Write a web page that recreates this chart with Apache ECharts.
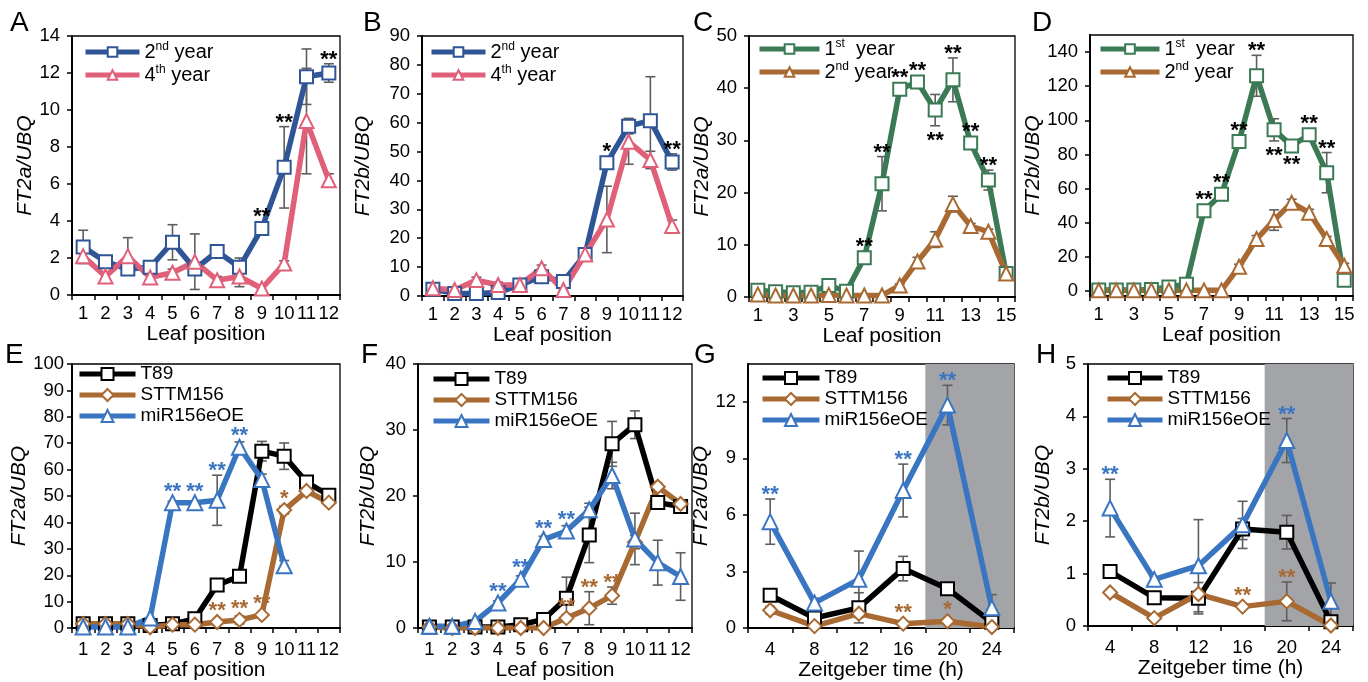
<!DOCTYPE html>
<html>
<head>
<meta charset="utf-8">
<title>FT2a / FT2b expression</title>
<script src="https://cdn.jsdelivr.net/npm/echarts@6.0.0/dist/echarts.min.js"></script>
<style>
  html, body { margin: 0; padding: 0; background: #fff; }
  #main { width: 1368px; height: 682px; }
</style>
</head>
<body>
<div id="main"></div>
<script>
// ---- categories / ticks ----
const leaf12 = ['1', '2', '3', '4', '5', '6', '7', '8', '9', '10', '11', '12'];
const leaf15 = ['1', '2', '3', '4', '5', '6', '7', '8', '9', '10', '11', '12', '13', '14', '15'];
const ztHours = [4, 8, 12, 16, 20, 24];
const ztTicks = [2, 6, 10, 14, 18, 22, 26];
const darkStart = 18; // shaded (dark) period in G and H

const ticksA = [0, 2, 4, 6, 8, 10, 12, 14];
const ticksB = [0, 10, 20, 30, 40, 50, 60, 70, 80, 90];
const ticksC = [0, 10, 20, 30, 40, 50];
const ticksD = [0, 20, 40, 60, 80, 100, 120, 140];
const ticksE = [0, 10, 20, 30, 40, 50, 60, 70, 80, 90, 100];
const ticksF = [0, 10, 20, 30, 40];
const ticksG = [0, 3, 6, 9, 12];
const ticksH = [0, 1, 2, 3, 4, 5];

// ---- values, error = +/- bar half length ----
// '' = no mark, '**' = above the point, '_**' = below the point
const a2nd = [2.6, 1.8, 1.4, 1.5, 2.85, 1.4, 2.35, 1.5, 3.6, 6.9, 11.8, 12.0];
const a2ndErr = [0.9, 0, 0, 0.3, 0.95, 0, 0, 0.5, 0, 2.2, 1.5, 0.5];
const a4th = [2.1, 1.0, 2.1, 0.95, 1.2, 1.8, 0.8, 1.0, 0.35, 1.7, 9.4, 6.2];
const a4thErr = [0.3, 0.2, 1.0, 0.2, 0.2, 1.5, 0.2, 0.55, 0.15, 0.15, 2.85, 0.35];
const sigA = ['', '', '', '', '', '', '', '', '**', '**', '', '**'];

const b2nd = [2.3, 0.9, 0.9, 1.2, 3.8, 6.7, 5.0, 14.4, 46.1, 58.8, 60.7, 46.4];
const b2ndErr = [0.8, 0.5, 0.5, 0.6, 1.0, 1.0, 1.0, 1.5, 1.5, 2.7, 15.2, 2.8];
const b4th = [2.7, 2.1, 5.5, 3.8, 3.8, 9.6, 2.1, 14.4, 26.5, 53.4, 47.1, 24.2];
const b4thErr = [0.5, 0.5, 1.0, 1.0, 0.8, 1.1, 0.5, 1.0, 11.5, 7.8, 3.0, 2.1];
const sigB = ['', '', '', '', '', '', '', '', '*', '', '', '**'];

const c1st = [1.3, 1.0, 0.8, 0.9, 2.2, 1.1, 7.5, 21.7, 39.8, 41.2, 35.8, 41.6, 29.5, 22.4, 4.5];
const c1stErr = [0, 0, 0, 0, 0, 0, 0.5, 5.2, 0.5, 0.5, 3.0, 4.2, 0.8, 1.9, 0.5];
const c2nd = [0.5, 0.3, 0.3, 0.3, 0.4, 0.3, 0.3, 0.3, 2.2, 6.8, 11.0, 17.8, 13.6, 12.5, 4.5];
const c2ndErr = [0, 0, 0, 0, 0, 0, 0, 0, 0.3, 0.8, 1.5, 1.5, 0.5, 0.5, 0.3];
const sigC = ['', '', '', '', '', '', '**', '**', '**', '**', '_**', '**', '**', '**', ''];

const d1st = [0.5, 0.5, 0.5, 0.8, 2.3, 3.9, 47.0, 56.6, 87.6, 126.1, 94.4, 85.0, 91.5, 69.3, 6.3];
const d1stErr = [0, 0, 0, 0, 0, 0, 2, 2, 2, 12, 6.5, 2, 2, 11.8, 1];
const d2nd = [0.3, 0.3, 0.3, 0.3, 0.3, 0.3, 0.3, 0.3, 14.1, 30.4, 41.5, 51.7, 45.8, 30.4, 14.7];
const d2ndErr = [0, 0, 0, 0, 0, 0, 0, 0, 1.5, 2, 6, 2, 2, 1.5, 1.5];
const sigD = ['', '', '', '', '', '', '**', '**', '**', '**', '_**', '_**', '**', '**', ''];

const eT89 = [1.6, 1.6, 1.6, 1.0, 1.6, 3.5, 16.3, 19.6, 67.0, 65.1, 55.3, 50.3];
const eT89Err = [0, 0, 0, 0, 0, 0.5, 1, 1, 3.7, 5.0, 1.5, 1];
const eSttm = [1.6, 1.6, 1.6, 0.3, 1.3, 1.3, 2.3, 3.1, 5.0, 44.7, 51.9, 47.5];
const eSttmErr = [0, 0, 0, 0, 0, 0, 0.5, 1.5, 0.8, 1.5, 1.5, 1];
const eMir = [0.4, 0.4, 0.4, 3.8, 47.5, 47.5, 48.4, 68.5, 56.3, 23.6];
const eMirErr = [0, 0, 0, 0, 0.5, 0.5, 9.5, 2, 2, 2];
const sigEsttm = ['', '', '', '', '', '', '**', '**', '**', '*', '', ''];
const sigEmir = ['', '', '', '', '**', '**', '**', '**', '', ''];

const fT89 = [0.15, 0.15, 0.15, 0.15, 0.5, 1.3, 4.5, 14.1, 27.9, 30.8, 19.0, 18.4];
const fT89Err = [0, 0, 0, 0, 0, 0.3, 3.2, 4.2, 3.4, 2.1, 1, 0.5];
const fSttm = [0.15, 0, 0, 0, 0, 0, 1.5, 3.0, 4.9, 13.0, 21.4, 18.8];
const fSttmErr = [0, 0, 0, 0, 0, 0, 0.5, 2.5, 1.3, 1, 0.5, 0.5];
const fMir = [0.25, 0.25, 1.0, 3.8, 7.4, 13.4, 14.7, 17.9, 23.1, 13.5, 9.9, 7.8];
const fMirErr = [0, 0, 0, 0.3, 0.5, 0.5, 0.8, 1, 2, 3.9, 3.4, 3.6];
const sigFsttm = ['', '', '', '', '', '', '**', '**', '**', '', '', ''];
const sigFmir = ['', '', '', '**', '**', '**', '**', '', '', '', '', ''];

const gT89 = [1.74, 0.53, 1.07, 3.15, 2.08, 0.3];
const gT89Err = [0.2, 0.1, 0.8, 0.65, 0.15, 0.1];
const gSttm = [0.94, 0.1, 0.76, 0.23, 0.36, 0.05];
const gSttmErr = [0.2, 0.05, 0.2, 0.05, 0.1, 0.02];
const gMir = [5.64, 1.33, 2.58, 7.29, 11.82, 1.07];
const gMirErr = [1.2, 0.25, 1.5, 1.4, 1.05, 0.7];
const sigGsttm = ['', '', '', '**', '*', ''];
const sigGmir = ['**', '', '', '**', '**', ''];

const hT89 = [1.04, 0.54, 0.53, 1.85, 1.79, 0.08];
const hT89Err = [0.05, 0.05, 0.3, 0.2, 0.32, 0.05];
const hSttm = [0.64, 0.15, 0.61, 0.37, 0.47, 0.01];
const hSttmErr = [0.05, 0.02, 0.05, 0.05, 0.37, 0.01];
const hMir = [2.25, 0.89, 1.15, 1.93, 3.54, 0.47];
const hMirErr = [0.55, 0.05, 0.88, 0.45, 0.42, 0.35];
const sigHsttm = ['', '', '', '**', '**', ''];
const sigHmir = ['**', '', '', '', '**', ''];

// ---- styling ----
const font = '"Liberation Sans", Arial, sans-serif';
const errColor = '#5e5e5e';
const shadeColor = '#a3a4a8';
const blueA = '#2f5597', pink = '#e0607a', green = '#3b7a55', brown = '#a86a32', blueE = '#3a75c2';

const chart = echarts.init(document.getElementById('main'));
const grid = [], xAxis = [], yAxis = [], legend = [], series = [], graphic = [];

function supText(s) {
  return s.replace(/(\d)(st|nd|th)/, '$1{sup|$2}');
}

function renderErr(params, api) {
  const x = api.value(0), v = api.value(1), e = api.value(2);
  if (!e) return null;
  const hi = api.coord([x, v + e]), lo = api.coord([x, v - e]);
  const cap = 5;
  const st = { stroke: errColor, lineWidth: 1.6 };
  return {
    type: 'group',
    children: [
      { type: 'line', shape: { x1: hi[0], y1: hi[1], x2: lo[0], y2: lo[1] }, style: st },
      { type: 'line', shape: { x1: hi[0] - cap, y1: hi[1], x2: hi[0] + cap, y2: hi[1] }, style: st },
      { type: 'line', shape: { x1: lo[0] - cap, y1: lo[1], x2: lo[0] + cap, y2: lo[1] }, style: st }
    ]
  };
}

function sigSeries(i, xs, vals, errs, sigs, color) {
  const items = [], texts = [];
  sigs.forEach((s, k) => {
    if (s) { items.push([xs[k], vals[k], errs[k]]); texts.push(s); }
  });
  return {
    type: 'custom', xAxisIndex: i, yAxisIndex: i, z: 4, silent: true, animation: false,
    data: items,
    renderItem: (params, api) => {
      const t = texts[params.dataIndex];
      const below = t[0] === '_';
      const x = api.value(0), v = api.value(1), e = api.value(2);
      const c = api.coord([x, v]);
      const edge = api.coord([x, below ? v - e : v + e]);
      const ePx = Math.abs(edge[1] - c[1]);
      const y = below ? c[1] + Math.max(ePx + 15, 19) : c[1] - Math.max(ePx + 4, 11);
      return {
        type: 'text', x: c[0], y: y,
        style: { text: below ? t.slice(1) : t, fill: color, font: 'bold 22px ' + font, align: 'center', verticalAlign: 'middle' }
      };
    }
  };
}

function addPanel(p) {
  const i = grid.length;
  const [l, t, w, h] = p.box;
  grid.push({ left: l, top: t, width: w, height: h, show: true, borderColor: '#000', borderWidth: 1.3 });
  const axisLine = { show: true, onZero: false, lineStyle: { color: '#000', width: 2 } };
  const axisTick = { show: true, length: 5, lineStyle: { color: '#000', width: 1.5 } };
  const labelStyle = { color: '#000', fontSize: 18.5, fontFamily: font };
  const nameStyle = { color: '#000', fontSize: 21, fontFamily: font };

  const x = {
    gridIndex: i, name: p.xName, nameLocation: 'middle', nameGap: p.xNameGap,
    nameTextStyle: nameStyle, axisLine, splitLine: { show: false }
  };
  if (p.zt) {
    Object.assign(x, {
      type: 'value', min: ztTicks[0], max: ztTicks[ztTicks.length - 1],
      axisTick: { ...axisTick, customValues: ztTicks },
      axisLabel: { ...labelStyle, margin: p.xMargin, customValues: ztHours }
    });
  } else {
    Object.assign(x, {
      type: 'category', data: p.cats, boundaryGap: true,
      axisTick: { ...axisTick, interval: 0 },
      axisLabel: { ...labelStyle, margin: p.xMargin, interval: p.cats.length > 12 ? 1 : 0 }
    });
  }
  xAxis.push(x);

  yAxis.push({
    gridIndex: i, type: 'value', min: p.yMin || 0, max: p.yMax,
    name: p.yName, nameLocation: 'middle', nameGap: p.yNameGap, nameRotate: 90,
    nameTextStyle: { ...nameStyle, fontStyle: 'italic' },
    axisLine,
    axisTick: { ...axisTick, customValues: p.yTicks },
    axisLabel: { ...labelStyle, margin: p.yMargin, customValues: p.yTicks },
    splitLine: { show: false }
  });

  const xs = p.zt ? ztHours : p.cats.map((c, k) => k);

  // error bars under the lines
  p.lines.forEach(s => {
    series.push({
      type: 'custom', xAxisIndex: i, yAxisIndex: i, z: 2, silent: true, clip: true, animation: false,
      data: s.vals.map((v, k) => [xs[k], v, s.errs[k]]),
      renderItem: renderErr
    });
  });

  p.lines.forEach((s, n) => {
    const line = {
      type: 'line', name: p.id + '|' + s.name, xAxisIndex: i, yAxisIndex: i, z: 3,
      data: p.zt ? s.vals.map((v, k) => [xs[k], v]) : s.vals,
      symbol: s.symbol, symbolSize: s.size, showAllSymbol: true,
      lineStyle: { color: s.color, width: 5.5 },
      itemStyle: { color: '#fff', borderColor: s.color, borderWidth: 2 },
      emphasis: { disabled: true }, animation: false
    };
    if (p.zt && n === 0) {
      line.markArea = {
        silent: true, itemStyle: { color: shadeColor },
        data: [[{ xAxis: darkStart }, { xAxis: ztTicks[ztTicks.length - 1] }]]
      };
    }
    series.push(line);
  });

  p.lines.forEach(s => {
    if (s.sig) series.push(sigSeries(i, xs, s.vals, s.errs, s.sig, s.sigColor || s.color));
  });

  legend.push({
    left: p.legend.left, top: p.legend.top, orient: 'vertical', padding: 0,
    itemWidth: p.legend.width, itemHeight: p.legend.icon, itemGap: 1,
    selectedMode: false,
    lineStyle: { width: 5 },
    data: p.lines.map(s => p.id + '|' + s.name),
    formatter: name => supText(name.split('|')[1]),
    textStyle: {
      color: '#000', fontFamily: font, fontSize: p.legend.fontSize, lineHeight: p.legend.lineHeight,
      rich: { sup: { fontSize: 12, fontFamily: font, verticalAlign: 'top', lineHeight: 14 } }
    }
  });

  graphic.push({
    type: 'text', left: p.letter[0], top: p.letter[1],
    style: { text: p.id, font: '28px ' + font, fill: '#000' }
  });
}

const legendTop = { fontSize: 20, lineHeight: 22, icon: 12 };
const legendBottom = { fontSize: 19, lineHeight: 20, icon: 15 };

addPanel({
  id: 'A', box: [72, 36, 268, 259], cats: leaf12, yMax: 14, yTicks: ticksA,
  yName: 'FT2a/UBQ', yNameGap: 36, yMargin: 12, xName: 'Leaf position', xNameGap: 25, xMargin: 9,
  legend: { left: 83, top: 41, width: 54, ...legendTop }, letter: [10, 9],
  lines: [
    { name: '2nd year', vals: a2nd, errs: a2ndErr, symbol: 'rect', size: 13, color: blueA, sig: sigA, sigColor: '#000' },
    { name: '4th year', vals: a4th, errs: a4thErr, symbol: 'triangle', size: 14, color: pink }
  ]
});

addPanel({
  id: 'B', box: [422, 36, 261, 260], cats: leaf12, yMax: 90, yTicks: ticksB,
  yName: 'FT2b/UBQ', yNameGap: 48, yMargin: 12, xName: 'Leaf position', xNameGap: 25, xMargin: 9,
  legend: { left: 429, top: 41, width: 54, ...legendTop }, letter: [363, 9],
  lines: [
    { name: '2nd year', vals: b2nd, errs: b2ndErr, symbol: 'rect', size: 13, color: blueA, sig: sigB, sigColor: '#000' },
    { name: '4th year', vals: b4th, errs: b4thErr, symbol: 'triangle', size: 14, color: pink }
  ]
});

addPanel({
  id: 'C', box: [749, 36, 266, 261], cats: leaf15, yMax: 50, yTicks: ticksC,
  yName: 'FT2a/UBQ', yNameGap: 35, yMargin: 12, xName: 'Leaf position', xNameGap: 25, xMargin: 9,
  legend: { left: 757, top: 38, width: 60, ...legendTop }, letter: [693, 9],
  lines: [
    { name: '1st  year', vals: c1st, errs: c1stErr, symbol: 'rect', size: 13, color: green, sig: sigC, sigColor: '#000' },
    { name: '2nd year', vals: c2nd, errs: c2ndErr, symbol: 'triangle', size: 14, color: brown }
  ]
});

addPanel({
  id: 'D', box: [1090, 35, 263, 261], cats: leaf15, yMin: -3, yMax: 150, yTicks: ticksD,
  yName: 'FT2b/UBQ', yNameGap: 43, yMargin: 12, xName: 'Leaf position', xNameGap: 25, xMargin: 9,
  legend: { left: 1098, top: 38, width: 59, ...legendTop }, letter: [1032, 9],
  lines: [
    { name: '1st  year', vals: d1st, errs: d1stErr, symbol: 'rect', size: 13, color: green, sig: sigD, sigColor: '#000' },
    { name: '2nd year', vals: d2nd, errs: d2ndErr, symbol: 'triangle', size: 14, color: brown }
  ]
});

addPanel({
  id: 'E', box: [72, 364, 268, 265], cats: leaf12, yMax: 100, yTicks: ticksE,
  yName: 'FT2a/UBQ', yNameGap: 38, yMargin: 8, xName: 'Leaf position', xNameGap: 28, xMargin: 12,
  legend: { left: 77, top: 364, width: 56, ...legendBottom }, letter: [5, 341],
  lines: [
    { name: 'T89', vals: eT89, errs: eT89Err, symbol: 'rect', size: 13, color: '#000' },
    { name: 'STTM156', vals: eSttm, errs: eSttmErr, symbol: 'diamond', size: 14, color: brown, sig: sigEsttm },
    { name: 'miR156eOE', vals: eMir, errs: eMirErr, symbol: 'triangle', size: 15, color: blueE, sig: sigEmir }
  ]
});

addPanel({
  id: 'F', box: [418, 364, 274, 264], cats: leaf12, yMax: 40, yTicks: ticksF,
  yName: 'FT2b/UBQ', yNameGap: 39, yMargin: 12, xName: 'Leaf position', xNameGap: 28, xMargin: 12,
  legend: { left: 431, top: 369, width: 56, ...legendBottom }, letter: [361, 341],
  lines: [
    { name: 'T89', vals: fT89, errs: fT89Err, symbol: 'rect', size: 13, color: '#000' },
    { name: 'STTM156', vals: fSttm, errs: fSttmErr, symbol: 'diamond', size: 14, color: brown, sig: sigFsttm },
    { name: 'miR156eOE', vals: fMir, errs: fMirErr, symbol: 'triangle', size: 15, color: blueE, sig: sigFmir }
  ]
});

addPanel({
  id: 'G', box: [748, 364, 266, 264], zt: true, yMax: 14, yTicks: ticksG,
  yName: 'FT2a/UBQ', yNameGap: 34, yMargin: 12, xName: 'Zeitgeber time (h)', xNameGap: 28, xMargin: 12,
  legend: { left: 760, top: 368, width: 57, ...legendBottom }, letter: [694, 341],
  lines: [
    { name: 'T89', vals: gT89, errs: gT89Err, symbol: 'rect', size: 13, color: '#000' },
    { name: 'STTM156', vals: gSttm, errs: gSttmErr, symbol: 'diamond', size: 14, color: brown, sig: sigGsttm },
    { name: 'miR156eOE', vals: gMir, errs: gMirErr, symbol: 'triangle', size: 15, color: blueE, sig: sigGmir }
  ]
});

addPanel({
  id: 'H', box: [1088, 364, 265, 262], zt: true, yMax: 5, yTicks: ticksH,
  yName: 'FT2b/UBQ', yNameGap: 34, yMargin: 12, xName: 'Zeitgeber time (h)', xNameGap: 28, xMargin: 12,
  legend: { left: 1105, top: 368, width: 55, ...legendBottom }, letter: [1036, 341],
  lines: [
    { name: 'T89', vals: hT89, errs: hT89Err, symbol: 'rect', size: 13, color: '#000' },
    { name: 'STTM156', vals: hSttm, errs: hSttmErr, symbol: 'diamond', size: 14, color: brown, sig: sigHsttm },
    { name: 'miR156eOE', vals: hMir, errs: hMirErr, symbol: 'triangle', size: 15, color: blueE, sig: sigHmir }
  ]
});

chart.setOption({
  backgroundColor: '#fff',
  animation: false,
  textStyle: { fontFamily: font },
  grid, xAxis, yAxis, legend, series, graphic
});
</script>
</body>
</html>
